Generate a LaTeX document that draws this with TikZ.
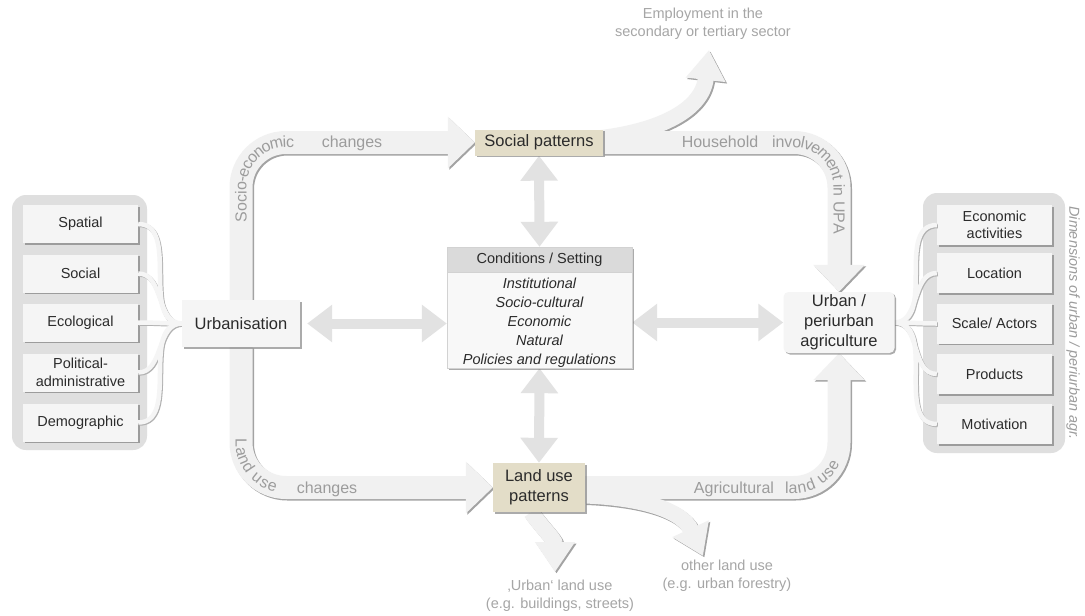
\documentclass[tikz,border=0pt]{standalone}
\usepackage{fontspec}
\setmainfont{Liberation Sans}
\usetikzlibrary{arrows.meta,shadows,decorations.text,calc}

\definecolor{bandfill}{HTML}{F1F1F1}
\definecolor{bandedge}{HTML}{A3A3A3}
\definecolor{panelgray}{HTML}{DFDFDF}
\definecolor{boxfill}{HTML}{F5F5F5}
\definecolor{beige}{HTML}{E3DDC8}
\definecolor{headgray}{HTML}{DADADA}
\definecolor{bodyfill}{HTML}{F8F8F8}
\definecolor{txtdark}{HTML}{2B2B2B}
\definecolor{bandtxt}{HTML}{9C9C9C}
\definecolor{outtxt}{HTML}{A6A6A6}
\definecolor{dblarrow}{HTML}{E2E2E2}

\newcommand\lblfont{\fontsize{14.5}{17.5}\selectfont}
\newcommand\keyfont{\fontsize{16.5}{20}\selectfont}
\newcommand\bandfont{\fontsize{16}{16}\selectfont}
\newcommand\outfont{\fontsize{14.5}{18}\selectfont}

\tikzset{
  panel/.style={fill=panelgray, draw=none, rounded corners=14pt, inner sep=0pt},
  shade/.style={drop shadow={shadow xshift=1.5pt, shadow yshift=-1.5pt, fill=black!60, opacity=0.55}},
  dimbox/.style={shade, fill=boxfill, text=txtdark, font=\lblfont, align=center,
    minimum width=115pt, minimum height=38pt, inner sep=0pt},
  keybox/.style={shade, fill=boxfill, text=txtdark, font=\keyfont, align=center, inner sep=0pt},
  patbox/.style={shade, fill=beige, text=txtdark, font=\keyfont, align=center, inner sep=0pt},
  band/.style={draw=bandfill, line width=23pt, rounded corners=45pt,
    -{Triangle[width=50pt,length=27pt]}},
  twig/.style={draw=bandfill, line width=16pt, -{Triangle[width=38pt,length=30pt]}},
  dbl/.style={draw=dblarrow, line width=10pt,
    {Triangle[width=36pt,length=25pt]}-{Triangle[width=36pt,length=25pt]}},
  brace/.style={draw=boxfill, line width=4.5pt},
  bandlbl/.style={font=\bandfont, text=bandtxt, inner sep=0pt, anchor=base},
  curvelbl/.style={decorate, decoration={text along path, text align={left indent=0pt},
    raise=-5.5pt, text={|\bandfont\color{bandtxt}|#1}}},
  outlbl/.style={font=\outfont, text=outtxt, align=center, inner sep=0pt},
}

% ribbons from the dimension boxes to the two key nodes
\newcommand\ribbons[1]{%
  \foreach \n in {spat,socl,eco,pol,dem}
    \draw[brace,#1] (\n.east) to[out=0,in=180] (urb.west);
  \foreach \n in {econ,loc,scal,prod,moti}
    \draw[brace,#1] (agr.east) to[out=0,in=180] (\n.west);
}
% the broad flow bands and their branches
\newcommand\flows[1]{%
  \draw[twig,#1] ([xshift=-6pt,yshift=4pt]soc.east) .. controls (655,132) and (702,112) .. (empTip);
  \draw[twig,#1] ([xshift=-8pt]land.south) .. controls +(10,14) and +(0,-32) .. (uluTip);
  \draw[twig,#1] ([yshift=-8pt]land.east) .. controls +(50,2) and +(-22,-48) .. (oluTip);
  \draw[band,#1] (urb.north) |- (soc.west);
  \draw[band,#1] (soc.east) -| (agr.north);
  \draw[band,#1] (urb.south) |- (land.west);
  \draw[band,#1] (land.east) -| (agr.south);
}

\begin{document}
\begin{tikzpicture}[x=1pt,y=-1pt]
\fill[white] (0,0) rectangle (1085,616);
\useasboundingbox (0,0) rectangle (1085,616);

% side panels
\node[panel, minimum width=135pt, minimum height=255pt] (lpanel) at (79.5,322.5) {};
\node[panel, minimum width=142pt, minimum height=260pt] (rpanel) at (994,323) {};

% anchors of the key nodes (their visible boxes are drawn further down)
\path
  (241,323.5) node[minimum width=118pt, minimum height=47pt, inner sep=0pt] (urb) {}
  (539,142.5) node[minimum width=128pt, minimum height=26pt, inner sep=0pt] (soc) {}
  (539,487.5) node[minimum width=92pt, minimum height=49pt, inner sep=0pt] (land) {}
  (839,322.5) node[minimum width=111pt, minimum height=61pt, inner sep=0pt] (agr) {}
  (539.5,307.5) node[minimum width=185pt, minimum height=121pt, inner sep=0pt] (cond) {};

% dimension boxes
\path
  (80.5,224)   node[dimbox] (spat) {Spatial}
  (80.5,273.5) node[dimbox] (socl) {Social}
  (80.5,322.5) node[dimbox] (eco)  {Ecological}
  (80.5,372.5) node[dimbox] (pol)  {Political-\\administrative}
  (80.5,422.5) node[dimbox] (dem)  {Demographic};
\path
  (994.5,225)   node[dimbox, minimum height=40pt] (econ) {Economic\\activities}
  (994.5,273)   node[dimbox, minimum height=40pt] (loc)  {Location}
  (994.5,323.5) node[dimbox, minimum height=40pt] (scal) {Scale/ Actors}
  (994.5,374)   node[dimbox, minimum height=40pt] (prod) {Products}
  (994.5,424)   node[dimbox, minimum height=40pt] (moti) {Motivation};

\node[rotate=-90, font=\fontsize{14.4}{16}\selectfont\itshape, text=bandtxt] (dimlbl)
  at (1073,323) {Dimensions of urban / periurban agr.};

% bracket ribbons: shadow, then ribbon
\begin{scope}[transform canvas={shift={(1pt,-1pt)}}]
  \ribbons{draw=gray!60}
\end{scope}
\ribbons{}

% flow bands: shadow edge, then band
\coordinate (empTip) at (709,50);
\coordinate (uluTip) at (555,572);
\coordinate (oluTip) at (703,556);
\begin{scope}[transform canvas={shift={(1.5pt,-1.5pt)}}]
  \flows{draw=bandedge}
\end{scope}
\flows{}

% band labels
\path[curvelbl={Socio-economic}] (241,222) -- (241,187) .. controls (241,162.2) and (261.2,142) .. (286,142) -- (340,142);
\node[bandlbl] (chg1) at (352,147.5) {changes};
\node[bandlbl] (hh) at (720,147.5) {Household};
\path[curvelbl={involvement in UPA}] (772,142) -- (794,142) .. controls (818.8,142) and (839,162.2) .. (839,187) -- (839,280);
\path[curvelbl={Land use}] (241,438) -- (241,442.5) .. controls (241,467.3) and (261.2,487.5) .. (286,487.5) -- (310,487.5);
\node[bandlbl] (chg2) at (327,493) {changes};
\node[bandlbl] (agl) at (734,493) {Agricultural};
\path[curvelbl={land use}] (785,487.5) -- (794,487.5) .. controls (818.8,487.5) and (839,467.3) .. (839,442.5) -- (839,400);

% interaction arrows
\draw[dbl] (soc.south) -- (cond.north);
\draw[dbl] (cond.south) -- (land.north);
\draw[dbl] ([xshift=7pt]urb.east) -- (urb.east -| cond.west);
\draw[dbl] (cond.east |- agr.west) -- (agr.west);

% key boxes
\node[keybox, minimum width=118pt, minimum height=47pt] (urbbox) at (urb) {Urbanisation};
\node[patbox, minimum width=128pt, minimum height=26pt] (socbox) at (soc) {Social patterns};
\node[patbox, minimum width=92pt, minimum height=49pt] (landbox) at (land) {Land use\\patterns};
\node[keybox, rounded corners=5pt, minimum width=111pt, minimum height=61pt] (agrbox) at (agr) {Urban /\\periurban\\agriculture};

% conditions box
\node[shade, fill=bodyfill, draw=gray!35, minimum width=185pt, minimum height=121pt, inner sep=0pt] (condbox) at (cond) {};
\node[fill=headgray, draw=gray!35, minimum width=185pt, minimum height=25pt, inner sep=0pt,
  font=\lblfont, text=txtdark, anchor=north] (condhead) at (cond.north) {Conditions / Setting};
\node[font={\fontsize{14.5}{19}\selectfont\itshape}, text=txtdark, align=center, inner sep=0pt]
  (condtext) at (539.5,323) {Institutional\\Socio-cultural\\Economic\\Natural\\Policies and regulations};

% outcome labels
\node[outlbl] (emplbl) at (703,24) {Employment in the\\secondary or tertiary sector};
\node[outlbl] (ululbl) at (560,595.5) {‚Urban‘ land use\\(e.g. buildings, streets)};
\node[outlbl] (olulbl) at (727,576) {other land use\\(e.g. urban forestry)};
\end{tikzpicture}
\end{document}
